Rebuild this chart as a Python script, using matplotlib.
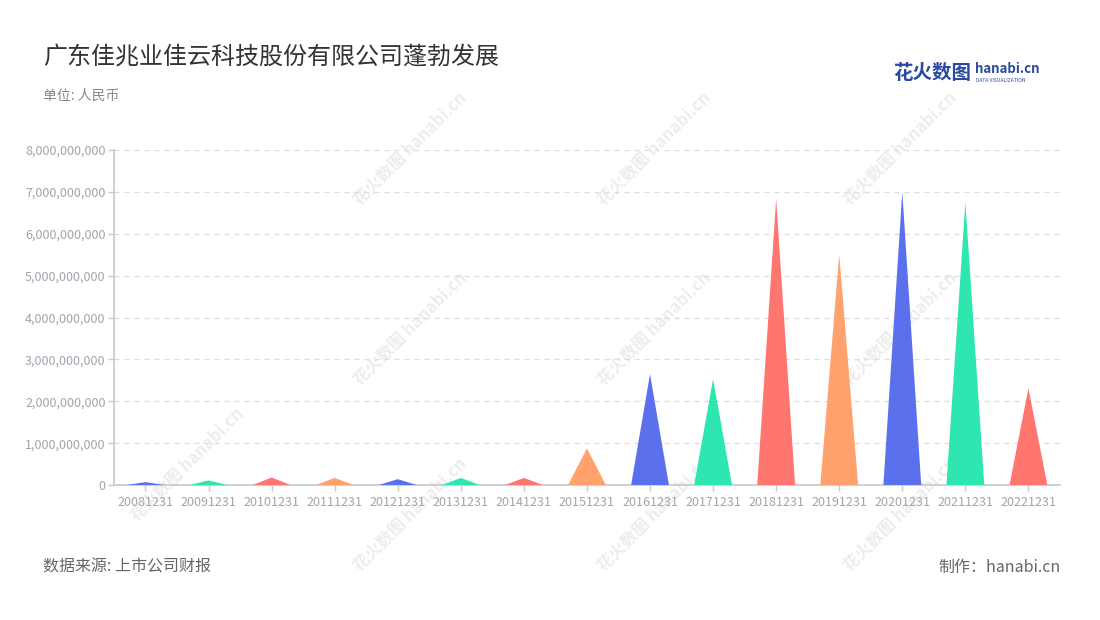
import matplotlib
matplotlib.use("Agg")
import matplotlib.pyplot as plt
from matplotlib.ticker import FuncFormatter
import numpy as np

plt.rcParams['font.family'] = ['Noto Sans CJK SC', 'DejaVu Sans']

# data
periods = ['20081231', '20091231', '20101231', '20111231', '20121231',
           '20131231', '20141231', '20151231', '20161231', '20171231',
           '20181231', '20191231', '20201231', '20211231', '20221231']
revenue = [0.07e9, 0.11e9, 0.18e9, 0.17e9, 0.14e9,
           0.17e9, 0.17e9, 0.875e9, 2.65e9, 2.53e9,
           6.84e9, 5.51e9, 7.0e9, 6.75e9, 2.31e9]
palette = ['#5b70ec', '#2de6b0', '#ff7570', '#ffa26e']

fig = plt.figure(figsize=(11, 6.2), dpi=100)
ax = fig.add_axes([0.1036, 0.2177, 0.86, 0.5403])
ax.patch.set_alpha(0)

half = 0.3
for i, v in enumerate(revenue):
    ax.fill([i - half, i, i + half], [0, v, 0],
            color=palette[i % 4], linewidth=0, zorder=3)

ax.set_xlim(-0.5, len(periods) - 0.5)
ax.set_ylim(0, 8e9)
ax.set_yticks(np.arange(0, 8.01e9, 1e9))
ax.yaxis.set_major_formatter(FuncFormatter(lambda v, p: f'{int(round(v)):,}'))
ax.set_xticks(range(len(periods)))
ax.set_xticklabels(periods)

ax.grid(axis='y', color='#dddddd', linestyle=(0, (4, 4)), linewidth=0.9, zorder=0)
for s in ['top', 'right']:
    ax.spines[s].set_visible(False)
for s in ['left', 'bottom']:
    ax.spines[s].set_color('#c8c8c8')
    ax.spines[s].set_linewidth(1.2)
ax.tick_params(axis='both', colors='#c8c8c8', labelcolor='#a0a4ad', labelsize=9,
               length=4, width=1)
ax.tick_params(axis='y', pad=2)
ax.tick_params(axis='x', pad=4)

# watermark, behind the plot
marks = [(0.373, 0.76), (0.595, 0.76), (0.818, 0.76),
         (0.373, 0.47), (0.595, 0.47), (0.818, 0.47),
         (0.373, 0.17), (0.595, 0.17), (0.818, 0.17), (0.17, 0.25)]
for wx, wy in marks:
    fig.text(wx, wy, '花火数图 hanabi.cn', rotation=45, fontsize=12,
             color='#ededed', ha='center', va='center', zorder=-1,
             fontweight='bold')

fig.text(0.039, 0.908, '广东佳兆业佳云科技股份有限公司蓬勃发展', fontsize=17.3,
         color='#333333', ha='left', va='center')
fig.text(0.039, 0.846, '单位: 人民币', fontsize=10, color='#888888',
         ha='left', va='center')
fig.text(0.039, 0.085, '数据来源: 上市公司财报', fontsize=11.5, color='#666666',
         ha='left', va='center')
fig.text(0.964, 0.085, '制作：hanabi.cn', fontsize=11.5, color='#666666',
         ha='right', va='center')

# logo
fig.text(0.812, 0.882, '花火数图', fontsize=14, color='#2b4aa0',
         fontweight='bold', ha='left', va='center')
fig.text(0.886, 0.889, 'hanabi.cn', fontsize=9.5, color='#2b4aa0',
         fontweight='bold', ha='left', va='center')
fig.text(0.887, 0.870, 'DATA VISUALIZATION', fontsize=3.6, color='#2b4aa0',
         ha='left', va='center')

fig.savefig('out.png', dpi=100)
